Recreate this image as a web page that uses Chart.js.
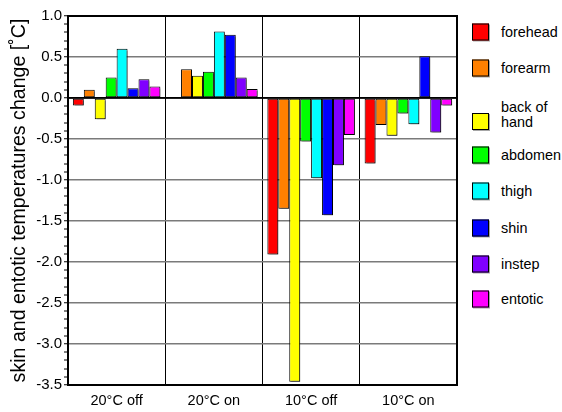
<!DOCTYPE html>
<html lang="en">
<head>
    <meta charset="UTF-8">
    <title>Skin and entotic temperature change</title>
    <script src="https://cdn.jsdelivr.net/npm/chart.js"></script>
    <style>
        body { margin: 0; background: #fff; font-family: "Liberation Sans", Arial, sans-serif; }
        #wrap { position: relative; width: 562px; height: 412px; }
        #chartBox { position: absolute; left: 0; top: 0; width: 465px; height: 412px; }
        #legend { position: absolute; left: 0; top: 0; }
        .leg-item { position: absolute; left: 472px; display: flex; align-items: center; transform: translateY(-50%); }
        .leg-box { width: 15px; height: 15px; border: 1px solid #000; box-shadow: 1px 1px 0 rgba(0,0,0,0.35); }
        .leg-text { margin-left: 12px; font-size: 14.4px; line-height: 15px; color: #000; white-space: pre; }
        .leg-text.two { position: relative; top: -6px; }
    </style>
</head>
<body>
<div id="wrap">
    <div id="chartBox"><canvas id="chart"></canvas></div>
    <div id="legend"></div>
</div>

<script>
// categories and series
const conditions = ['20°C off', '20°C on', '10°C off', '10°C on'];
const sites = ['forehead', 'forearm', 'back of\nhand', 'abdomen', 'thigh', 'shin', 'instep', 'entotic'];
const siteColors = ['#ff0000', '#ff8000', '#ffff00', '#00ff00', '#00ffff', '#0000ff', '#8000ff', '#ff00ff'];

const forehead   = [-0.09, 0.00, -1.91, -0.80];
const forearm    = [ 0.10, 0.35, -1.35, -0.33];
const backOfHand = [-0.26, 0.27, -3.46, -0.46];
const abdomen    = [ 0.25, 0.32, -0.53, -0.19];
const thigh      = [ 0.60, 0.81, -0.98, -0.32];
const shin       = [ 0.12, 0.77, -1.43,  0.51];
const instep     = [ 0.23, 0.25, -0.82, -0.42];
const entotic    = [ 0.14, 0.11, -0.45, -0.09];
const seriesValues = [forehead, forearm, backOfHand, abdomen, thigh, shin, instep, entotic];

const yMin = -3.5, yMax = 1.0;

// legend item vertical centres (px)
const legendY = [32, 68, 121, 155, 191, 228, 264, 299];

const datasets = sites.map((name, i) => ({
    label: name,
    data: seriesValues[i],
    backgroundColor: siteColors[i],
    borderColor: '#000',
    borderWidth: 1,
    borderSkipped: false,
    categoryPercentage: 0.9,
    barPercentage: 1.0
}));

const isMajor = v => Math.abs(v * 2 - Math.round(v * 2)) < 1e-6;

// grey drop shadow under the bars
const barShadow = {
    id: 'barShadow',
    beforeDatasetsDraw(chart) {
        const ctx = chart.ctx;
        ctx.save();
        ctx.shadowColor = 'rgba(0,0,0,0.35)';
        ctx.shadowOffsetX = 2;
        ctx.shadowOffsetY = 2;
        ctx.shadowBlur = 0;
    },
    afterDatasetsDraw(chart) {
        chart.ctx.restore();
    }
};

// black frame round the plot + zero line on top
const frame = {
    id: 'frame',
    afterDraw(chart) {
        const { ctx, chartArea: a } = chart;
        const y0 = chart.scales.y.getPixelForValue(0);
        ctx.save();
        ctx.strokeStyle = '#000';
        ctx.lineWidth = 1.5;
        ctx.beginPath();
        ctx.moveTo(a.left, y0);
        ctx.lineTo(a.right, y0);
        ctx.stroke();
        ctx.lineWidth = 2;
        ctx.strokeRect(a.left, a.top, a.right - a.left, a.bottom - a.top);
        ctx.restore();
    }
};

new Chart(document.getElementById('chart'), {
    type: 'bar',
    data: { labels: conditions, datasets: datasets },
    options: {
        responsive: true,
        maintainAspectRatio: false,
        animation: false,
        layout: { padding: { top: 16, right: 8, left: 0, bottom: 0 } },
        plugins: { legend: { display: false }, tooltip: { enabled: false } },
        scales: {
            x: {
                grid: { offset: true, color: '#000', lineWidth: 1, drawTicks: false },
                border: { color: '#000', width: 2 },
                ticks: { color: '#000', padding: 7, font: { family: 'Liberation Sans', size: 14.5 } },
                afterFit: s => { s.height = 27; }
            },
            y: {
                min: yMin,
                max: yMax,
                grid: {
                    color: c => isMajor(c.tick.value) ? (Math.abs(c.tick.value) < 1e-6 ? '#000' : '#7a7a7a') : 'rgba(0,0,0,0)',
                    lineWidth: c => isMajor(c.tick.value) ? 1.5 : 0,
                    tickColor: '#000',
                    tickWidth: 1,
                    tickLength: 4
                },
                border: { color: '#000', width: 2 },
                ticks: {
                    stepSize: 0.1,
                    autoSkip: false,
                    maxTicksLimit: 100,
                    color: '#000',
                    padding: 2,
                    font: { family: 'Liberation Sans', size: 15 },
                    callback: v => isMajor(v) ? v.toFixed(1) : ''
                },
                title: {
                    display: true,
                    text: 'skin and entotic temperatures change [˚C]',
                    color: '#000',
                    font: { family: 'Liberation Sans', size: 19.6 },
                    padding: { top: 8, bottom: 0 }
                },
                afterFit: s => { s.width = 68; }
            }
        }
    },
    plugins: [barShadow, frame]
});

// legend on the right
const legend = document.getElementById('legend');
sites.forEach((name, i) => {
    const item = document.createElement('div');
    item.className = 'leg-item';
    item.style.top = legendY[i] + 'px';
    const cls = name.includes('\n') ? 'leg-text two' : 'leg-text';
    item.innerHTML = `<div class="leg-box" style="background:${siteColors[i]}"></div><div class="${cls}">${name}</div>`;
    legend.appendChild(item);
});
</script>
</body>
</html>
